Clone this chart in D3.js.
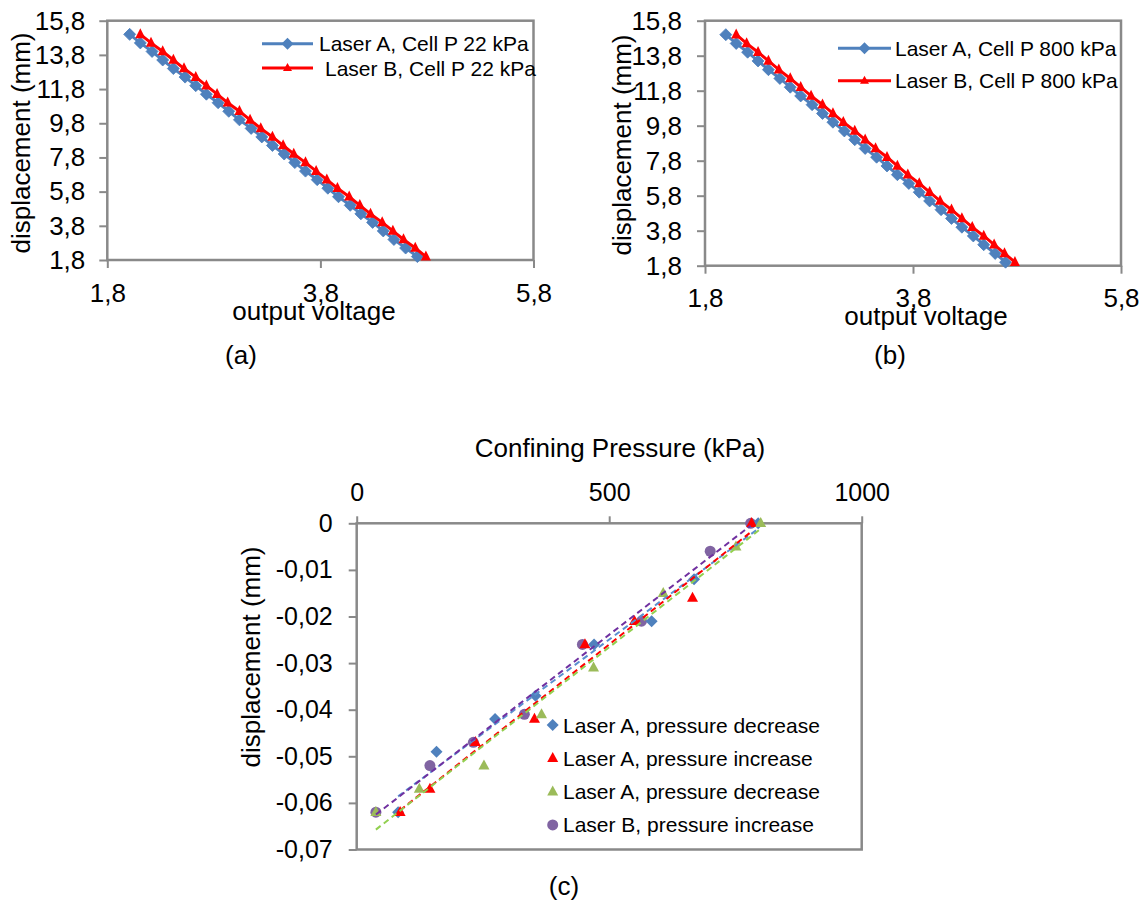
<!DOCTYPE html>
<html><head><meta charset="utf-8">
<script src="https://cdn.jsdelivr.net/npm/d3@7/dist/d3.min.js"></script>
<style>
html,body{margin:0;padding:0;background:#fff;}
svg text{font-family:"Liberation Sans",Arial,sans-serif;fill:#000;}
</style></head>
<body>
<svg id="c" width="1147" height="909"></svg>
<script>
// ---------- DATA ----------
const voltageTicks = [1.8, 3.8, 5.8];
const dispTicks = [1.8, 3.8, 5.8, 7.8, 9.8, 11.8, 13.8, 15.8];
const displacement = [15.0,14.5,14.0,13.5,13.0,12.5,12.0,11.5,11.0,10.5,10.0,9.5,9.0,8.5,8.0,7.5,7.0,6.5,6.0,5.5,5.0,4.5,4.0,3.5,3.0,2.5,2.0];
const voltA22 = [2.01,2.11,2.22,2.32,2.42,2.53,2.63,2.73,2.84,2.94,3.04,3.15,3.25,3.35,3.46,3.56,3.66,3.77,3.87,3.97,4.08,4.18,4.29,4.39,4.49,4.60,4.71];
const voltB22 = [2.11,2.21,2.32,2.42,2.52,2.63,2.73,2.83,2.93,3.04,3.14,3.24,3.35,3.45,3.55,3.66,3.76,3.86,3.96,4.07,4.17,4.27,4.38,4.48,4.58,4.69,4.79];
const voltA800 = [2.00,2.10,2.21,2.31,2.41,2.52,2.62,2.72,2.83,2.93,3.03,3.14,3.24,3.34,3.45,3.55,3.65,3.76,3.86,3.96,4.07,4.17,4.27,4.38,4.48,4.59,4.69];
const voltB800 = [2.10,2.20,2.31,2.41,2.51,2.62,2.72,2.82,2.93,3.03,3.13,3.24,3.34,3.44,3.55,3.65,3.75,3.86,3.96,4.06,4.17,4.27,4.37,4.48,4.58,4.68,4.78];

const pressureTicks = [0, 500, 1000];
const dispTicksC = [0, -0.01, -0.02, -0.03, -0.04, -0.05, -0.06, -0.07];
const pA_dec = [795, 668, 584, 470, 354, 274, 158, 82];
const dA_dec = [0, -0.012, -0.021, -0.026, -0.037, -0.042, -0.049, -0.062];
const pA_inc = [782, 665, 550, 452, 352, 235, 145, 86];
const dA_inc = [0, -0.016, -0.021, -0.026, -0.042, -0.047, -0.057, -0.062];
const pA_dec2 = [800, 751, 607, 469, 366, 252, 124, 38];
const dA_dec2 = [0, -0.005, -0.015, -0.031, -0.041, -0.052, -0.057, -0.062];
const pB_inc = [780, 700, 564, 447, 332, 231, 145, 38];
const dB_inc = [0, -0.006, -0.021, -0.026, -0.041, -0.047, -0.052, -0.062];

// ---------- HELPERS ----------
const svg = d3.select("#c");
svg.append("rect").attr("width",1147).attr("height",909).attr("fill","#fff");
const AX = "#898989";
const comma = v => (Math.round(v*1000)/1000).toString().replace(".", ",");
const diamond = r => `M0,${-r}L${r},0L0,${r}L${-r},0Z`;
const tri = (w,h) => `M0,${-h*0.62}L${w/2},${h*0.38}L${-w/2},${h*0.38}Z`;
function text(g, x, y, s, size, anchor){
  return g.append("text").attr("x",x).attr("y",y).attr("font-size",size)
    .attr("text-anchor",anchor||"start").text(s);
}
function vtext(g, cx, cy, s, size){
  g.append("text").attr("transform",`translate(${cx},${cy}) rotate(-90)`)
    .attr("text-anchor","middle").attr("font-size",size).text(s);
}

// ---------- TOP CHARTS ----------
function topChart(o){
  const g = svg.append("g");
  const x = d3.scaleLinear().domain([1.8,5.8]).range([o.x0,o.x1]);
  const y = d3.scaleLinear().domain([1.8,15.8]).range([o.y1,o.y0]);
  const ya = g.append("g").attr("transform",`translate(${o.x0},0)`)
    .call(d3.axisLeft(y).tickValues(dispTicks).tickSize(8).tickPadding(o.ypad).tickFormat(comma));
  const xa = g.append("g").attr("transform",`translate(0,${o.y1})`)
    .call(d3.axisBottom(x).tickValues(voltageTicks).tickSize(8).tickPadding(o.xpad).tickFormat(comma));
  [ya,xa].forEach(a=>{
    a.select(".domain").remove();
    a.selectAll("line").attr("stroke",AX).attr("stroke-width",2);
    a.selectAll("text").attr("font-size",26).attr("font-family",null).attr("fill","#000");
  });
  g.append("rect").attr("x",o.x0).attr("y",o.y0).attr("width",o.x1-o.x0).attr("height",o.y1-o.y0)
    .attr("fill","none").attr("stroke",AX).attr("stroke-width",2.5);
  const line = d3.line().x(d=>x(d[0])).y(d=>y(d[1]));
  const sA = o.vA.map((v,i)=>[v,displacement[i]]);
  const sB = o.vB.map((v,i)=>[v,displacement[i]]);
  g.append("path").attr("d",line(sA)).attr("fill","none").attr("stroke","#4F81BD").attr("stroke-width",3);
  g.selectAll(".dA").data(sA).enter().append("path").attr("d",diamond(6))
    .attr("transform",d=>`translate(${x(d[0])},${y(d[1])})`).attr("fill","#4F81BD").attr("stroke","#4A7EBB").attr("stroke-width",0.8);
  g.append("path").attr("d",line(sB)).attr("fill","none").attr("stroke","#FF0000").attr("stroke-width",3);
  g.selectAll(".dB").data(sB).enter().append("path").attr("d",tri(10,10))
    .attr("transform",d=>`translate(${x(d[0])},${y(d[1])})`).attr("fill","#FF0000");
  // legend
  const L = o.leg;
  g.append("line").attr("x1",L.lx0).attr("x2",L.lx1).attr("y1",L.y1).attr("y2",L.y1).attr("stroke","#4F81BD").attr("stroke-width",3);
  g.append("path").attr("d",diamond(6)).attr("transform",`translate(${(L.lx0+L.lx1)/2},${L.y1})`).attr("fill","#4F81BD");
  g.append("line").attr("x1",L.lx0).attr("x2",L.lx1).attr("y1",L.y2).attr("y2",L.y2).attr("stroke","#FF0000").attr("stroke-width",3);
  g.append("path").attr("d",tri(9,8)).attr("transform",`translate(${(L.lx0+L.lx1)/2},${L.y2})`).attr("fill","#FF0000");
  text(g, L.tx1, L.y1+7.5, o.labA, 21);
  text(g, L.tx2, L.y2+7.5, o.labB, 21);
  text(g, o.titleX, o.titleY, "output voltage", 26, "middle");
  vtext(g, o.ylabX, o.ylabY, "displacement (mm)", 26);
  text(g, o.capX, 364, o.cap, 26, "middle");
}
topChart({x0:107.3,x1:533.5,y0:20.7,y1:260,ypad:14,xpad:15.8,vA:voltA22,vB:voltB22,
  leg:{lx0:262,lx1:313,y1:43.7,y2:68,tx1:319,tx2:325},
  labA:"Laser A, Cell P 22 kPa",labB:"Laser B, Cell P 22 kPa",
  titleX:314,titleY:320,ylabX:30,ylabY:143,capX:241,cap:"(a)"});
topChart({x0:705,x1:1121,y0:20.7,y1:265.7,ypad:15,xpad:15.1,vA:voltA800,vB:voltB800,
  leg:{lx0:838,lx1:891,y1:48.3,y2:80.7,tx1:895,tx2:895},
  labA:"Laser A, Cell P 800 kPa",labB:"Laser B, Cell P 800 kPa",
  titleX:926,titleY:325,ylabX:631,ylabY:145,capX:890,cap:"(b)"});

// ---------- BOTTOM CHART ----------
(function(){
  const g = svg.append("g");
  const x0=356.7,x1=861.7,y0=523.3,y1=849.5;
  const x = d3.scaleLinear().domain([0,1000]).range([x0,x1]);
  const y = d3.scaleLinear().domain([0,-0.07]).range([y0,y1]);
  g.append("rect").attr("x",x0).attr("y",y0).attr("width",x1-x0).attr("height",y1-y0)
    .attr("fill","none").attr("stroke",AX).attr("stroke-width",2.5);
  const xa = g.append("g").attr("transform",`translate(0,${y0})`)
    .call(d3.axisTop(x).tickValues(pressureTicks).tickSize(7).tickPadding(15.6).tickFormat(comma));
  const ya = g.append("g").attr("transform",`translate(${x0},0)`)
    .call(d3.axisLeft(y).tickValues(dispTicksC).tickSize(8).tickPadding(16).tickFormat(comma));
  [ya,xa].forEach(a=>{
    a.select(".domain").remove();
    a.selectAll("line").attr("stroke",AX).attr("stroke-width",2);
    a.selectAll("text").attr("font-size",25).attr("font-family",null).attr("fill","#000");
  });
  const series = [
    {p:pA_dec,d:dA_dec,c:"#4F81BD",t:"#5B8FD0",m:"diamond",lab:"Laser A, pressure decrease"},
    {p:pA_inc,d:dA_inc,c:"#FF0000",t:"#FF0000",m:"tri",lab:"Laser A, pressure increase"},
    {p:pA_dec2,d:dA_dec2,c:"#9BBB59",t:"#92D050",m:"tri",lab:"Laser A, pressure decrease"},
    {p:pB_inc,d:dB_inc,c:"#8064A2",t:"#7030A0",m:"circle",lab:"Laser B, pressure increase"}
  ];
  const mk = (sel,m,c) => {
    if(m==="circle") sel.append("circle").attr("r",5.5).attr("fill",c);
    else sel.append("path").attr("d", m==="diamond"?diamond(6):tri(11,10)).attr("fill",c);
  };
  // marker z-order: purple beneath the others
  [3,0,1,2].forEach(k=>{
    const s = series[k];
    s.p.forEach((p,i)=>{
      const gg = g.append("g").attr("transform",`translate(${x(p)},${y(s.d[i])})`);
      mk(gg,s.m,s.c);
    });
  });
  series.forEach(s=>{
    const mx=d3.mean(s.p), my=d3.mean(s.d);
    const b = d3.sum(s.p.map((p,i)=>(p-mx)*(s.d[i]-my)))/d3.sum(s.p.map(p=>(p-mx)*(p-mx)));
    const a = my-b*mx;
    const lo=d3.min(s.p), hi=d3.max(s.p);
    g.append("line").attr("x1",x(lo)).attr("x2",x(hi)).attr("y1",y(a+b*lo)).attr("y2",y(a+b*hi))
      .attr("stroke",s.t).attr("stroke-width",2).attr("stroke-dasharray","6,4");
  });
  series.forEach((s,i)=>{
    const ly = 725 + i*33.3;
    const gg = g.append("g").attr("transform",`translate(552.7,${ly})`);
    mk(gg,s.m,s.c);
    text(g, 563, ly+7.5, s.lab, 21);
  });
  text(g, 620, 457, "Confining Pressure (kPa)", 26, "middle");
  vtext(g, 260, 657, "displacement (mm)", 26);
  text(g, 564, 895, "(c)", 26, "middle");
})();
</script>
</body></html>
